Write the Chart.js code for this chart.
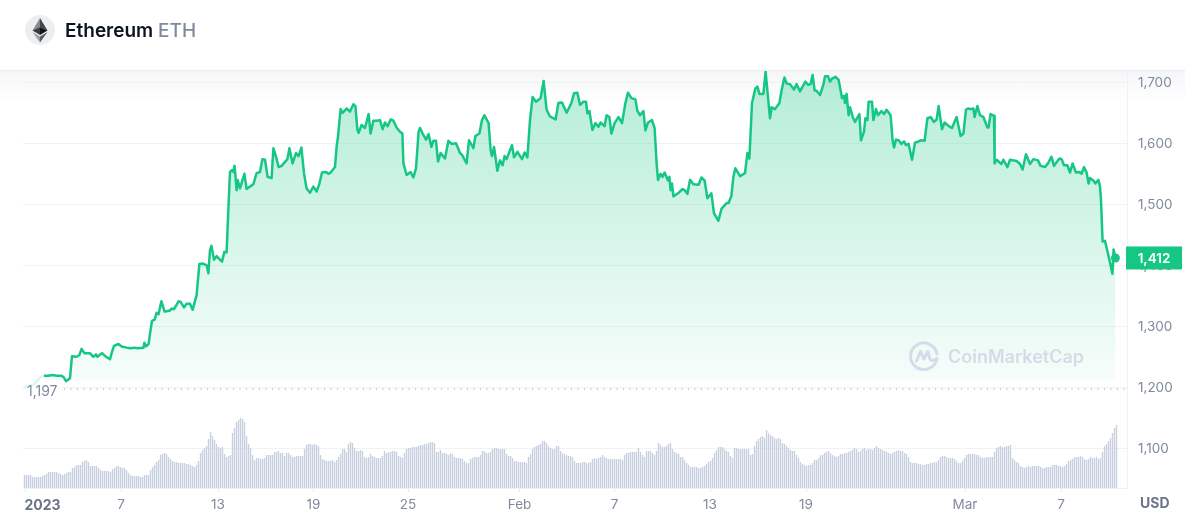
<!DOCTYPE html>
<html lang="en">
<head>
<meta charset="UTF-8">
<title>Ethereum ETH</title>
<script src="https://cdn.jsdelivr.net/npm/chart.js@4/dist/chart.umd.min.js"></script>
<style>
  html, body { margin: 0; background: #fff; overflow: hidden; }
  body { width: 1185px; height: 518px; position: relative; font-family: Inter, sans-serif; }
  #band { position: absolute; left: 0; top: 70px; width: 1185px; height: 32px; border-top: 1px solid #eceef1; box-sizing: border-box; background: linear-gradient(#f5f6f8, #fff); }
  #myChart { position: absolute; left: 0; top: 0; }
  #head { position: absolute; left: 25px; top: 15px; height: 30px; display: flex; align-items: center; }
  #head span { font-size: 19px; font-weight: 600; margin-left: 10px; color: #0d1421; }
  #head span b { font-weight: 500; color: #808a9d; }
  #mark { position: absolute; left: 909px; top: 341px; display: flex; align-items: center; color: #d5dbe8; font-size: 18px; font-weight: 600; }
  #mark span { margin-left: 9px; }
</style>
</head>
<body>
<div id="band"></div>
<canvas id="myChart" width="1185" height="518"></canvas>
<div id="head">
  <svg width="30" height="30" viewBox="0 0 30 30">
    <circle cx="15" cy="15" r="15" fill="#eceff1"/>
    <path d="M15 3 L7.5 15.5 L15 12z" fill="#8a8a8a"/>
    <path d="M15 3 L22.5 15.5 L15 12z" fill="#454545"/>
    <path d="M7.5 15.5 L15 20 L15 12z" fill="#3c3c3c"/>
    <path d="M22.5 15.5 L15 20 L15 12z" fill="#141414"/>
    <path d="M7.5 17 L15 27.5 L15 21.5z" fill="#9a9a9a"/>
    <path d="M22.5 17 L15 27.5 L15 21.5z" fill="#5c5c5c"/>
  </svg>
  <span>Ethereum <b>ETH</b></span>
</div>
<div id="mark">
  <svg width="30" height="30" viewBox="0 0 30 30" fill="none" stroke="#d5dbe8" stroke-width="3" stroke-linecap="round" stroke-linejoin="round">
    <path d="M28 17.5 A13.3 13.3 0 1 1 28 13"/>
    <path d="M7.5 20 L11.5 10.5 L15 18 L19 10.5 L21 18 Q23 21 27 18"/>
  </svg>
  <span>CoinMarketCap</span>
</div>
<script>
// tick positions are in volume-sample units (the x axis counts samples)
const xTickPos = [0.7, 48.5, 97, 144.75, 192, 247.75, 295.25, 343, 391, 470.5, 518.5];
const xTickLabels = ['2023', '7', '13', '19', '25', 'Feb', '7', '13', '19', 'Mar', '7'];
const yTicks = [1100, 1200, 1300, 1400, 1500, 1600, 1700];
const lastPrice = 1412;
const lowPrice = 1197;

const volume = [
  13,13,13,13,11,11,11,11, 11,12,13,14,16,16,16,16, 16,15,14,13,14,15,16,16,
  20,21,23,23,23,26,27,28, 26,22,22,22,22,20,18,17, 17,17,17,16,19,20,22,22,
  21,20,20,18,15,13,12,12, 12,12,11,11,13,13,13,18, 21,23,26,28,33,34,35,34,
  31,29,27,26,26,25,25,25, 25,24,24,23,22,21,23,27, 35,38,40,42,49,56,52,48,
  44,41,40,41,34,31,32,33, 55,60,66,68,70,69,66,52, 44,40,33,28,30,30,29,29,
  30,33,33,33,33,36,36,37, 35,35,32,35,35,33,31,31, 32,32,32,32,39,43,44,44,
  43,44,43,42,33,29,28,27, 27,27,28,26,28,31,34,39, 39,36,44,46,45,40,37,37,
  38,37,31,30,31,34,32,31, 30,30,30,32,37,35,36,36, 37,37,36,32,31,30,35,39,
  40,40,41,41,41,42,
  43,43,44,44,45,46,46,45, 36,36,38,35,35,34,33,35, 34,31,30,30,30,29,27,25,
  25,29,30,31,31,31,33,37, 37,35,35,36,39,40,40,39, 39,39,39,34,32,32,30,27,
  27,26,26,26,26,25,31,34, 39,41,42,43,44,47,47,45, 42,40,39,39,42,42,37,35,
  34,33,32,32,31,27,25,25, 25,26,26,25,25,26,29,30, 29,30,31,33,31,30,29,29,
  29,29,29,29,29,28,33,35, 35,36,36,36,36,40,36,33, 31,37,37,37,35,33,37,45,
  43,41,41,42,44,45,39,36, 35,34,31,31,28,25,23,21, 21,21,21,20,20,21,22,24,
  26,27,30,35,38,41,41,41, 39,37,36,32,30,40,40,39, 39,39,39,39,39,33,34,42,
  47,49,51,52,50,58,55,53, 52,50,49,50,49,45,44,42, 40,38,37,37,33,30,26,24,
  23,22,23,23,25,28,28,30,
  33,33,35,36,37,35,33,32, 31,32,34,34,35,35,36,37, 38,40,39,36,37,39,40,38,
  39,39,38,40,42,40,39,38, 37,36,35,34,35,36,37,38, 37,37,35,34,31,26,25,25,
  25,24,24,23,23,24,24,25, 25,26,26,28,31,32,32,31, 30,30,30,29,27,25,25,27,
  30,33,34,34,34,34,33,33, 31,30,30,31,31,31,31,36, 40,41,42,41,41,42,42,43,
  30,28,26,25,22,21,20,21, 22,21,22,22,22,22,21,20, 20,21,21,21,23,23,23,22,
  22,21,22,24,27,28,29,31, 31,31,32,31,29,28,29,31, 30,30,31,29,30,36,42,44,
  47,50,55,60,63
];

const lineSamples = [
  -0.3,4.7,8,10,12.2,14.3,16.3,18.8,20,21,23,23.5,24,26.3,27.7,28.8,30.2,33,34.7,36,36.7,39,41,43,44,45,47.2,48.8,
  51.3,53,55.5,56.7,59.7,60.2,61,62.3,63,64,65.3,66.3,67.3,68.7,70.3,71.7,73,73.8,75,77.3,78.3,80,81.3,83,84.3,
  86.3,86.8,87.7,89.3,91.3,92.2,93,93.7,95,96.3,97.7,99,100.2,101.3,102.2,
  103,104,104.7,105.3,106.3,106.8,108,110.2,111.3,113,114.7,116.3,118,119.2,120.5,121.8,123.8,124.7,126,127.3,128.8,
  131.7,132.7,134.3,136,137.3,138.7,140,141.3,143,144.7,146.3,147.7,149,151,152.2,153.3,155.5,156.3,157,158.3,159.3,
  161.3,163,164.7,165.7,166.7,167.3,168.8,170.5,172.3,173.3,174.7,176.3,178,179.3,180.5,181.8,183.3,184.7,186.3,188,
  189.2,189.7,191.3,193.3,194.7,196,197.3,198,199.3,201,202.3,203.7,204.7,206,207,208.3,210.5,212.2,213.8,216,218,219,
  221.3,222.5,224.7,225.7,227.7,229,230.2,232.3,233.3,234,235,236.7,238,
  239.3,240.3,241.3,244,245,246.7,249,250.3,251.7,253,254.3,256,258.3,259.8,261.3,263,265.8,267.2,269,271.3,273.7,275,
  276.7,278,279.7,281,281.7,282.7,284.2,285.7,287.2,288.3,290.3,291.3,292.7,293.7,295.3,297.3,299,300.7,302,303.7,305.7,
  306.7,308,309.7,310.7,312,314,315.3,316.3,317,318.3,319.3,320.3,322,322.7,323.3,324,324.7,327,329.3,330.7,331.7,333,
  334.7,337.3,338.7,340.3,341.7,343.7,345,347.2,348.8,351.3,352.3,353.7,354.7,355.7,358,360.5,361.7,362.7,364,365.7,
  366.7,367.7,369.7,370.8,373,373.8,375.5,377.7,378.8,380.2,381.3,383,385,386.3,388,
  389.3,390.7,392,393.3,394.3,395.3,396.3,398,399.7,400.5,402,403,404,405.8,407.3,409,410,410.5,411.3,412.3,413,414.3,
  415.5,417.7,418.5,420,420.7,421.7,422.3,424,424.7,426,427,428.7,430,431.3,433.3,434.3,435,436,437.3,438.7,440,441,
  442.3,444,445.5,447.3,448.3,450.3,451.7,453.3,455,456.3,457.3,459,460.3,461.7,463,464,466.3,468.3,469.7,471,472,473.3,
  474.7,475.3,476.7,478,479.7,481.7,482.3,483.3,485,485.3,486.3,488.7,489.7,491.7,493,496.3,498,499.3,501,503,504.7,507,
  508.3,510.5,512,513.7,515,517.7,518.8,520,521.7,523,524.3,526,527.7,528.8,530,531.3,532.3,533,534.7,535.7,537.2,538,
  538.5,539.3,540.5,542.7,544.2,544.8,545.7
];
const linePrices = [
  1199,1204,1216,1219,1219,1220,1219,1219,1216,1210,1215,1234,1251,1250,1253,1263,1256,1256,1250,1254,1250,1256,1250,1246,1258,1268,1271,1267,
  1265,1264,1265,1264,1265,1273,1267,1271,1288,1309,1311,1322,1320,1341,1324,1325,1326,1329,1328,1341,1340,1331,1337,1337,1327,
  1351,1370,1402,1403,1400,1387,1425,1432,1409,1415,1410,1406,1422,1421,1493,
  1553,1556,1553,1563,1523,1540,1526,1550,1525,1529,1533,1551,1553,1574,1573,1545,1543,1592,1578,1561,1563,
  1574,1592,1567,1584,1579,1593,1551,1526,1519,1529,1521,1534,1552,1553,1550,1552,1561,1594,1611,1656,1650,
  1657,1652,1664,1661,1622,1617,1630,1625,1648,1616,1637,1637,1638,1623,1634,1628,1639,1637,1626,1619,
  1616,1567,1548,1553,1544,1559,1619,1625,1616,1606,1615,1594,1604,1604,1570,1584,1575,1604,1599,1600,1584,1581,
  1567,1605,1592,1612,1616,1638,1646,1633,1589,1579,1594,1555,1572,
  1564,1579,1574,1597,1577,1586,1574,1585,1577,1638,1676,1668,1674,1702,1655,1644,1639,1666,1667,1650,1666,1682,
  1683,1663,1668,1668,1649,1653,1622,1633,1627,1634,1628,1646,1643,1616,1633,1643,1633,1666,1683,1674,1672,
  1653,1646,1653,1621,1634,1638,1625,1567,1540,1550,1545,1552,1539,1545,1523,1534,1513,1518,1525,1522,1517,1540,
  1533,1532,1544,1539,1510,1518,1485,1473,1493,1502,1502,1514,1545,1559,1546,1551,1584,1575,1666,1690,
  1693,1681,1681,1718,1641,1659,1656,1666,1687,1708,1698,1697,1688,1697,1685,
  1693,1701,1696,1697,1712,1687,1686,1679,1696,1710,1710,1701,1706,1709,1704,1674,1678,1666,1681,1646,1659,1644,
  1635,1648,1605,1619,1641,1638,1668,1668,1638,1656,1646,1653,1648,1655,1646,1605,1593,1606,1605,1599,1603,1597,
  1599,1573,1601,1603,1605,1604,1641,1643,1635,1639,1661,1623,1634,1630,1627,1625,1643,1612,1616,1655,1657,1656,
  1657,1643,1661,1646,1643,1626,1626,1648,1645,1567,1573,1566,1573,1561,1573,1571,1566,1557,1582,1566,1574,1572,
  1563,1561,1567,1578,1563,1575,1574,1564,1564,1552,1567,1552,1553,1550,1561,1552,1534,1543,1539,1534,1540,1529,
  1507,1439,1440,1409,1386,1426,1412
];

// quarter-sample shift keeps the thin bars on whole pixels so the gaps stay visible
const barPoints = volume.map((v, i) => ({ x: i + 0.25, y: v }));
const linePoints = lineSamples.map((s, i) => ({ x: s, y: linePrices[i] }));

const overlay = {
  id: 'overlay',
  afterDatasetsDraw(chart) {
    const { ctx, scales: { x, y } } = chart;
    const ly = y.getPixelForValue(lowPrice);
    // low marker label, sits on a whitened patch over the line start
    ctx.save();
    ctx.fillStyle = 'rgba(255,255,255,0.85)';
    ctx.fillRect(23, ly - 18, 21, 9);
    ctx.fillRect(23, ly - 9, 40, 21);
    ctx.font = '14px Inter';
    ctx.fillStyle = '#808a9d';
    ctx.textAlign = 'left';
    ctx.textBaseline = 'middle';
    ctx.fillText('1,197', 27, ly + 3);
    // current price tag
    const py = y.getPixelForValue(lastPrice);
    ctx.fillStyle = '#16c784';
    ctx.fillRect(1126, py - 11.5, 56, 23);
    ctx.fillStyle = '#fff';
    ctx.font = '600 13.5px Inter';
    ctx.textAlign = 'center';
    ctx.fillText('1,412', 1154, py + 0.5);
    // first tick label is left aligned and bold, the unit sits under the price axis
    ctx.fillStyle = '#6b7588';
    ctx.font = '700 14px Inter';
    ctx.textAlign = 'left';
    ctx.fillText(xTickLabels[0], x.getPixelForValue(xTickPos[0]) - 1, 506);
    ctx.fillText('USD', 1140, 504);
    ctx.restore();
  }
};

new Chart(document.getElementById('myChart').getContext('2d'), {
  data: {
    datasets: [
      {
        type: 'line',
        data: linePoints,
        borderColor: '#16c784',
        borderWidth: 2.5,
        borderJoinStyle: 'round',
        tension: 0,
        pointRadius: c => c.dataIndex === linePoints.length - 1 ? 4.5 : 0,
        pointBackgroundColor: '#16c784',
        pointBorderWidth: 0,
        fill: { value: 1210 },
        backgroundColor: c => {
          const a = c.chart.chartArea;
          if (!a) return 'transparent';
          const g = c.chart.ctx.createLinearGradient(0, a.top, 0, 388);
          g.addColorStop(0, 'rgba(22,199,132,0.32)');
          g.addColorStop(1, 'rgba(22,199,132,0.03)');
          return g;
        },
        order: 1
      },
      {
        type: 'line',
        data: [{ x: 20, y: lowPrice }, { x: 550.5, y: lowPrice }],
        borderColor: '#8a93a6',
        borderWidth: 1,
        borderDash: [1, 5.5],
        pointRadius: 0,
        order: 2
      },
      {
        type: 'bar',
        data: barPoints,
        yAxisID: 'vol',
        backgroundColor: '#c8d0e0',
        barThickness: 1.4,
        inflateAmount: 0,
        order: 3
      }
    ]
  },
  options: {
    responsive: false,
    animation: false,
    layout: { padding: { left: 23, top: 71 } },
    plugins: { legend: { display: false }, tooltip: { enabled: false } },
    scales: {
      x: {
        type: 'linear',
        offset: false,
        min: -0.5,
        max: 551.5,
        afterBuildTicks: s => { s.ticks = xTickPos.map(v => ({ value: v })); },
        afterFit: s => { s.height = 30; },
        grid: { drawOnChartArea: false, offset: false, tickLength: 4, color: '#e6e9ee' },
        border: { color: '#eff2f5' },
        ticks: {
          autoSkip: false,
          maxRotation: 0,
          padding: 5,
          color: '#808a9d',
          font: { family: 'Inter', size: 13.5 },
          callback: (v, i) => i === 0 ? '' : xTickLabels[i]
        }
      },
      y: {
        position: 'right',
        min: 1034.9,
        max: 1718.5,
        afterBuildTicks: s => { s.ticks = yTicks.map(v => ({ value: v })); },
        afterFit: s => { s.width = 58; },
        grid: { color: '#f1f2f4', drawTicks: false },
        border: { color: '#eff2f5' },
        ticks: {
          padding: 11,
          labelOffset: 1,
          color: '#808a9d',
          font: { family: 'Inter', size: 13.5 },
          callback: v => v.toLocaleString('en-US')
        }
      },
      vol: { display: false, min: 0, max: 417 }
    }
  },
  plugins: [overlay]
});
</script>
</body>
</html>
